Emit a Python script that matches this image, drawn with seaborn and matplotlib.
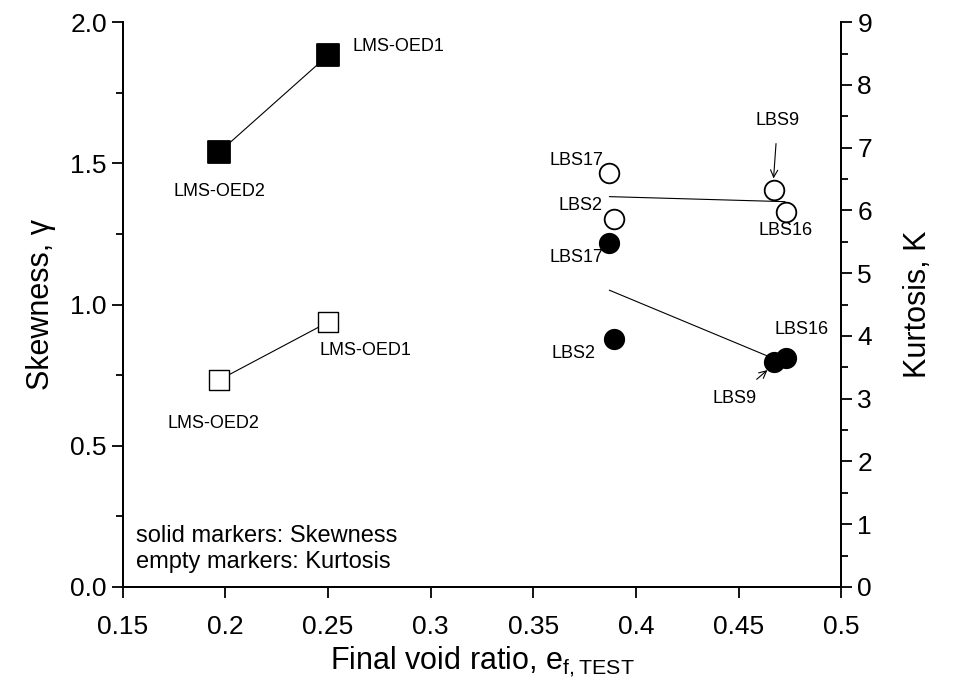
import numpy as np
import matplotlib
matplotlib.use('Agg')
import matplotlib.pyplot as plt
import matplotlib.ticker as ticker
import seaborn as sns

#data
lms_names = ['LMS-OED2', 'LMS-OED1']
lms_e = [0.197, 0.250]
lms_skew = [1.54, 1.883]
lms_kurt = [3.30, 4.22]

lbs_names = ['LBS17', 'LBS2', 'LBS9', 'LBS16']
lbs_e = [0.387, 0.3895, 0.467, 0.473]
lbs_skew = [1.217, 0.878, 0.798, 0.811]
lbs_kurt = [6.59, 5.86, 6.33, 5.98]

#trend lines through the LBS points
trend_e_skew = [0.387, 0.465]
trend_skew = [1.051, 0.815]
trend_e_kurt = [0.387, 0.4726]
trend_kurt = [6.22, 6.14]

sns.set_style('ticks')
plt.rcParams['font.family'] = ['Liberation Sans', 'DejaVu Sans']
plt.rcParams['text.color'] = 'k'
plt.rcParams['axes.labelcolor'] = 'k'
plt.rcParams['xtick.color'] = 'k'
plt.rcParams['ytick.color'] = 'k'
ft = 22

fig = plt.figure(figsize=(9.67, 6.93), dpi=100)
ax = fig.add_axes([0.127, 0.153, 0.743, 0.815])
ax2 = ax.twinx()

#skewness (solid markers)
sns.lineplot(x=lms_e, y=lms_skew, ax=ax, color='k', lw=0.8)
sns.scatterplot(x=lms_e, y=lms_skew, ax=ax, marker='s', s=260, color='k',
                edgecolor='k', zorder=3)
sns.lineplot(x=trend_e_skew, y=trend_skew, ax=ax, color='k', lw=0.8)
sns.scatterplot(x=lbs_e, y=lbs_skew, ax=ax, marker='o', s=200, color='k',
                edgecolor='k', zorder=3)

#kurtosis (empty markers)
sns.lineplot(x=lms_e, y=lms_kurt, ax=ax2, color='k', lw=0.8)
sns.scatterplot(x=lms_e, y=lms_kurt, ax=ax2, marker='s', s=200, color='white',
                edgecolor='k', linewidth=1, zorder=3)
sns.lineplot(x=trend_e_kurt, y=trend_kurt, ax=ax2, color='k', lw=0.8)
sns.scatterplot(x=lbs_e, y=lbs_kurt, ax=ax2, marker='o', s=200, color='white',
                edgecolor='k', linewidth=1.3, zorder=3)

fs = 13
ax.text(lms_e[1] + 0.012, lms_skew[1] + 0.03, lms_names[1], fontsize=fs, ha='left', va='center')
ax.text(lms_e[0], lms_skew[0] - 0.14, lms_names[0], fontsize=fs, ha='center', va='center')
ax2.text(lms_e[1] - 0.004, lms_kurt[1] - 0.45, lms_names[1], fontsize=fs, ha='left', va='center')
ax2.text(lms_e[0] - 0.003, lms_kurt[0] - 0.7, lms_names[0], fontsize=fs, ha='center', va='center')

ax.text(lbs_e[0] - 0.003, lbs_skew[0] - 0.05, lbs_names[0], fontsize=fs, ha='right', va='center')
ax.text(lbs_e[1] - 0.009, lbs_skew[1] - 0.05, lbs_names[1], fontsize=fs, ha='right', va='center')
ax.annotate(lbs_names[2], xy=(lbs_e[2] - 0.003, lbs_skew[2] - 0.03),
            xytext=(lbs_e[2] - 0.019, lbs_skew[2] - 0.13), fontsize=fs,
            ha='center', va='center',
            arrowprops=dict(arrowstyle='->', color='k', lw=0.8, shrinkA=8, shrinkB=0))
ax.text(lbs_e[3] + 0.021, lbs_skew[3] + 0.1, lbs_names[3], fontsize=fs, ha='right', va='center')

ax2.text(lbs_e[0] - 0.003, lbs_kurt[0] + 0.2, lbs_names[0], fontsize=fs, ha='right', va='center')
ax2.text(lbs_e[1] - 0.006, lbs_kurt[1] + 0.22, lbs_names[1], fontsize=fs, ha='right', va='center')
ax2.annotate(lbs_names[2], xy=(lbs_e[2], lbs_kurt[2] + 0.18),
             xytext=(lbs_e[2] + 0.002, lbs_kurt[2] + 1.1), fontsize=fs,
             ha='center', va='center',
             arrowprops=dict(arrowstyle='->', color='k', lw=0.8, shrinkA=8, shrinkB=0))
ax2.text(lbs_e[3], lbs_kurt[3] - 0.3, lbs_names[3], fontsize=fs, ha='center', va='center')

ax.text(0.018, 0.025, 'solid markers: Skewness\nempty markers: Kurtosis',
        transform=ax.transAxes, fontsize=17, ha='left', va='bottom', linespacing=1.25)

ax.set_xlim(0.15, 0.5)
ax.set_ylim(0, 2.0)
ax2.set_ylim(0, 9)
ax.xaxis.set_major_locator(ticker.MultipleLocator(0.05))
ax.xaxis.set_major_formatter(ticker.FuncFormatter(lambda v, p: f'{v:.2f}'.rstrip('0')))
ax.yaxis.set_major_locator(ticker.MultipleLocator(0.5))
ax.yaxis.set_minor_locator(ticker.MultipleLocator(0.25))
ax.yaxis.set_major_formatter(ticker.FormatStrFormatter('%.1f'))
ax2.yaxis.set_major_locator(ticker.MultipleLocator(1))
ax2.yaxis.set_minor_locator(ticker.MultipleLocator(0.5))

for a in (ax, ax2):
    a.spines['top'].set_visible(False)
    for s in a.spines.values():
        s.set_linewidth(1.3)
        s.set_color('k')
    a.tick_params(which='major', direction='out', length=8, width=1.3, labelsize=19)
    a.tick_params(which='minor', direction='out', length=5, width=1.3)
ax.tick_params(axis='x', pad=12)

ax.set_xlabel(r'Final void ratio, e$_{\mathregular{f,TEST}}$', fontsize=ft, labelpad=4)
ax.set_ylabel('Skewness, γ', fontsize=ft, labelpad=10)
ax2.set_ylabel('Kurtosis, K', fontsize=ft, labelpad=22)

fig.savefig('out.png', dpi=100)
